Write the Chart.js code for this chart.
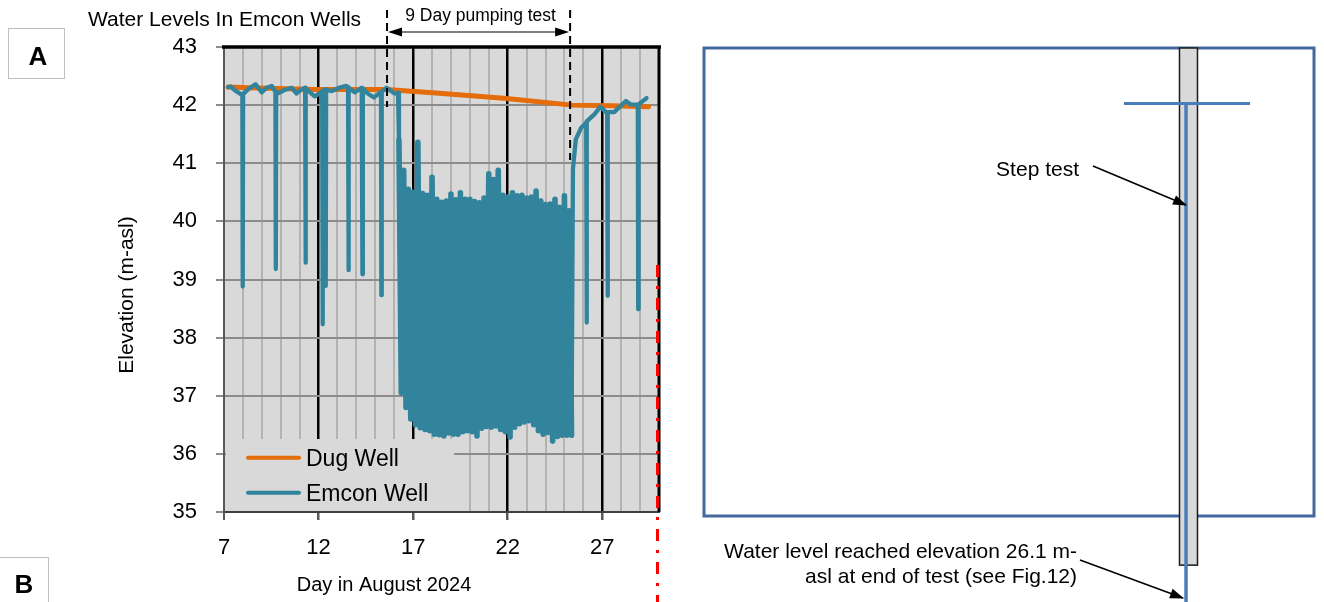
<!DOCTYPE html>
<html>
<head>
<meta charset="utf-8">
<script src="https://cdn.jsdelivr.net/npm/chart.js@4.4.1/dist/chart.umd.min.js"></script>
<style>
  html, body { margin: 0; padding: 0; background: #ffffff; overflow: hidden; }
  #wrap { position: relative; width: 1324px; height: 602px; }
  canvas { position: absolute; top: 0; }
</style>
</head>
<body>
<div id="wrap">
  <canvas id="c1" width="680" height="602" style="left:0px"></canvas>
  <canvas id="c2" width="644" height="602" style="left:680px"></canvas>
</div>
<script>
// ---------------- DATA (panel A) ----------------
const dugDays   = [7.22, 8.3, 11.8, 15.6, 16.9, 18.2, 21.8, 25.4, 27.5, 29.45];
const dugLevels = [42.31, 42.30, 42.27, 42.27, 42.24, 42.21, 42.12, 42.00, 41.99, 41.97];

// Emcon well before pumping (daily oscillation + short dips)
const preDays = [7.22, 7.35, 7.6, 7.93, 7.97, 7.99, 8.01, 8.3, 8.67, 8.99, 9.25, 9.52, 9.72, 9.74, 9.76, 9.83,
  10.2, 10.57, 10.84, 11.05, 11.29, 11.31, 11.33, 11.55, 11.8, 12.05, 12.19, 12.21, 12.23, 12.36, 12.38, 12.40,
  12.68, 13.1, 13.47, 13.56, 13.58, 13.60, 13.91, 14.28, 14.32, 14.34, 14.6, 14.93, 15.23, 15.30, 15.32, 15.34,
  15.59, 15.8, 16.02, 16.2];
const preLevels = [42.31, 42.32, 42.25, 42.18, 42.18, 38.88, 42.19, 42.28, 42.36, 42.22, 42.30, 42.33, 42.23, 39.18, 42.22, 42.20,
  42.26, 42.30, 42.20, 42.26, 42.30, 39.29, 42.29, 42.22, 42.15, 42.20, 42.24, 38.23, 42.25, 42.27, 38.89, 42.27,
  42.24, 42.30, 42.33, 42.31, 39.16, 42.30, 42.22, 42.30, 39.09, 42.29, 42.20, 42.13, 42.21, 42.22, 38.73, 42.23,
  42.30, 42.25, 42.20, 42.21];

// Emcon well during the 9 day pumping test: alternating high / low readings
const pumpHighDays = [16.25, 16.5, 16.75, 17.0, 17.25, 17.5, 17.75, 18.0, 18.25, 18.5, 18.75, 19.0, 19.25, 19.5,
  19.75, 20.0, 20.25, 20.5, 20.75, 21.0, 21.25, 21.5, 21.75, 22.0, 22.25, 22.5, 22.75, 23.0, 23.25, 23.5, 23.75,
  24.0, 24.25, 24.5, 24.75, 25.0, 25.25];
const pumpHigh = [41.40, 40.88, 40.55, 40.50, 41.36, 40.48, 40.45, 40.76, 40.38, 40.33, 40.35, 40.47, 40.37, 40.49,
  40.38, 40.38, 40.34, 40.32, 40.40, 40.82, 40.72, 40.88, 40.45, 40.42, 40.49, 40.44, 40.45, 40.40, 40.42, 40.52, 40.35,
  40.29, 40.30, 40.38, 40.24, 40.44, 40.18];
const pumpLowDays = [16.375, 16.625, 16.875, 17.125, 17.375, 17.625, 17.875, 18.125, 18.375, 18.625, 18.875, 19.125,
  19.375, 19.625, 19.875, 20.125, 20.375, 20.625, 20.875, 21.125, 21.375, 21.625, 21.875, 22.125, 22.375, 22.625,
  22.875, 23.125, 23.375, 23.625, 23.875, 24.125, 24.375, 24.625, 24.875, 25.125, 25.375];
const pumpLow = [37.05, 36.80, 36.60, 36.50, 36.45, 36.42, 36.40, 36.34, 36.33, 36.31, 36.36, 36.34,
  36.34, 36.38, 36.40, 36.38, 36.31, 36.44, 36.47, 36.46, 36.48, 36.42, 36.38, 36.29, 36.46, 36.52,
  36.55, 36.57, 36.50, 36.40, 36.34, 36.37, 36.22, 36.30, 36.32, 36.32, 36.32];

// Emcon well recovery after pumping
const postDays = [25.45, 25.6, 25.88, 26.1, 26.15, 26.17, 26.19, 26.58, 26.9, 27.2, 27.26, 27.28, 27.3, 27.63,
  28.25, 28.51, 28.88, 28.9, 28.92, 29.34];
const postLevels = [40.90, 41.41, 41.61, 41.68, 41.70, 38.26, 41.72, 41.84, 41.97, 41.88, 41.88, 38.72, 41.88, 41.88,
  42.07, 42.01, 42.01, 38.49, 42.01, 42.12];

const xTickLabels = [7, 12, 17, 22, 27];
const pumpStart = 15.62, pumpEnd = 25.30;

// ---------------- DATA (panel B) ----------------
const staticLevel = 42.05;        // m-asl, static water level
const finalLevel = 26.1;          // m-asl, level at end of test
const wellX = 79.02;              // position of well in section
const staticSpan = [68.85, 89.51];
const casingX = [77.95, 80.9];
const casingTop = 43, casingBottom = 34.16;

// ---------------- BUILD ----------------
const FONT = "'Liberation Sans', Arial, Helvetica, sans-serif";
Chart.defaults.font.family = FONT;
Chart.defaults.color = '#000';

const toPts = (xs, ys) => xs.map((x, i) => ({ x: x, y: ys[i] }));
const emconPts = toPts(preDays, preLevels);
pumpHighDays.forEach((d, i) => {
  emconPts.push({ x: d, y: pumpHigh[i] });
  emconPts.push({ x: pumpLowDays[i], y: pumpLow[i] });
});
toPts(postDays, postLevels).forEach(p => emconPts.push(p));
const pumpFirst = pumpHighDays[0], pumpLast = pumpLowDays[pumpLowDays.length - 1];

function arrowHead(ctx, x1, y1, x2, y2, len, half) {
  const a = Math.atan2(y2 - y1, x2 - x1);
  ctx.beginPath();
  ctx.moveTo(x2, y2);
  ctx.lineTo(x2 - len * Math.cos(a) + half * Math.sin(a), y2 - len * Math.sin(a) - half * Math.cos(a));
  ctx.lineTo(x2 - len * Math.cos(a) - half * Math.sin(a), y2 - len * Math.sin(a) + half * Math.cos(a));
  ctx.closePath();
  ctx.fill();
}

const panelA = {
  id: 'panelA',
  beforeDraw(chart) {
    const { ctx, chartArea: a } = chart;
    ctx.save();
    ctx.fillStyle = '#d9d9d9';
    ctx.fillRect(a.left, a.top, a.right - a.left, a.bottom - a.top);
    ctx.restore();
  },
  afterDraw(chart) {
    const { ctx, chartArea: a } = chart;
    const xs = chart.scales.x;
    ctx.save();
    // legend box inside plot
    ctx.fillStyle = '#d9d9d9';
    ctx.fillRect(226, 439, 228, 72);
    ctx.font = '23px ' + FONT;
    ctx.textBaseline = 'alphabetic';
    ctx.textAlign = 'left';
    chart.data.datasets.forEach((ds, i) => {
      const y = 457.7 + i * 35;
      ctx.strokeStyle = ds.borderColor;
      ctx.lineWidth = 4;
      ctx.lineCap = 'round';
      ctx.beginPath(); ctx.moveTo(248, y); ctx.lineTo(299, y); ctx.stroke();
      ctx.fillStyle = '#000';
      ctx.fillText(ds.label, 306, y + 8.5);
    });
    ctx.lineCap = 'butt';
    // top and right borders
    ctx.strokeStyle = '#000';
    ctx.lineWidth = 3.5;
    ctx.beginPath(); ctx.moveTo(222, a.top); ctx.lineTo(a.right + 2, a.top); ctx.stroke();
    ctx.lineWidth = 3;
    ctx.beginPath(); ctx.moveTo(a.right, a.top); ctx.lineTo(a.right, a.bottom); ctx.stroke();
    // red dash-dot line
    ctx.strokeStyle = '#ff0000';
    ctx.lineWidth = 3;
    ctx.setLineDash([12, 9, 3, 9]);
    ctx.beginPath(); ctx.moveTo(657.5, 265); ctx.lineTo(657.5, 602); ctx.stroke();
    // pumping test markers
    const x1 = xs.getPixelForValue(pumpStart), x2 = xs.getPixelForValue(pumpEnd);
    ctx.strokeStyle = '#000';
    ctx.lineWidth = 2;
    ctx.setLineDash([8, 5]);
    ctx.beginPath(); ctx.moveTo(x1, 10); ctx.lineTo(x1, 107); ctx.stroke();
    ctx.beginPath(); ctx.moveTo(x2, 10); ctx.lineTo(x2, 160); ctx.stroke();
    ctx.setLineDash([]);
    ctx.lineWidth = 1.2;
    ctx.beginPath(); ctx.moveTo(x1 + 4, 32); ctx.lineTo(x2 - 4, 32); ctx.stroke();
    ctx.fillStyle = '#000';
    arrowHead(ctx, x2, 32, x1 + 1, 32, 14, 4.5);
    arrowHead(ctx, x1, 32, x2 - 1, 32, 14, 4.5);
    ctx.font = '17.5px ' + FONT;
    ctx.textAlign = 'center';
    ctx.fillText('9 Day pumping test', (x1 + x2) / 2 + 2, 21);
    // chart title
    ctx.font = '21px ' + FONT;
    ctx.textAlign = 'left';
    ctx.fillText('Water Levels In Emcon Wells', 88, 26);
    // axis titles
    ctx.font = '20px ' + FONT;
    ctx.textAlign = 'center';
    ctx.fillText('Day in August 2024', 384, 591);
    ctx.save();
    ctx.translate(133, 295);
    ctx.rotate(-Math.PI / 2);
    ctx.font = '21px ' + FONT;
    ctx.fillText('Elevation (m-asl)', 0, 0);
    ctx.restore();
    // panel letters
    ctx.fillStyle = '#fff';
    ctx.strokeStyle = '#bfbfbf';
    ctx.lineWidth = 1;
    ctx.fillRect(8.5, 28.5, 56, 50); ctx.strokeRect(8.5, 28.5, 56, 50);
    ctx.fillRect(-1, 557.5, 49.5, 50); ctx.strokeRect(-1, 557.5, 49.5, 50);
    ctx.fillStyle = '#000';
    ctx.font = 'bold 26px ' + FONT;
    ctx.textAlign = 'center';
    ctx.fillText('A', 38, 65);
    ctx.fillText('B', 24, 593);
    ctx.restore();
  }
};

const isMajor = v => xTickLabels.includes(v);

new Chart(document.getElementById('c1'), {
  type: 'line',
  data: {
    datasets: [
      { label: 'Dug Well', data: toPts(dugDays, dugLevels), borderColor: '#e46c0a', borderWidth: 5,
        pointRadius: 0, order: 2, borderJoinStyle: 'round', borderCapStyle: 'round' },
      { label: 'Emcon Well', data: emconPts, borderColor: '#31849b', borderWidth: 4.3,
        pointRadius: 0, order: 1, borderJoinStyle: 'round', borderCapStyle: 'round',
        segment: {
          borderWidth: c => (c.p0.parsed.x >= pumpFirst && c.p1.parsed.x <= pumpLast) ? 5.6 : 4.3
        } }
    ]
  },
  options: {
    responsive: false, animation: false, devicePixelRatio: 1,
    layout: { padding: { left: 0, top: 47, right: 21, bottom: 0 } },
    plugins: { legend: { display: false }, tooltip: { enabled: false }, title: { display: false } },
    elements: { line: { tension: 0 } },
    scales: {
      x: {
        type: 'linear', min: 7, max: 30,
        afterFit: s => { s.height = 90; },
        ticks: { stepSize: 1, maxTicksLimit: 100, autoSkip: false, maxRotation: 0, minRotation: 0, padding: 15,
          color: '#000', font: { size: 22 },
          callback: v => isMajor(v) ? String(v) : '' },
        grid: {
          tickLength: 8,
          color: c => (c.tick && isMajor(c.tick.value) && c.tick.value !== 7) ? '#000000' : (c.tick && c.tick.value === 7 ? '#595959' : '#b3b3b3'),
          lineWidth: c => (c.tick && isMajor(c.tick.value) && c.tick.value !== 7) ? 2.5 : 2,
          tickColor: c => (c.tick && isMajor(c.tick.value)) ? '#595959' : 'rgba(0,0,0,0)'
        },
        border: { display: true, color: '#404040', width: 2 }
      },
      y: {
        min: 35, max: 43,
        afterFit: s => { s.width = 224; },
        ticks: { stepSize: 1, padding: 19, color: '#000', font: { size: 22 } },
        grid: { color: '#8c8c8c', lineWidth: 2, tickLength: 8, tickColor: '#8c8c8c' },
        border: { display: true, color: '#595959', width: 2 }
      }
    }
  },
  plugins: [panelA]
});

// ---------------- panel B ----------------
const panelB = {
  id: 'panelB',
  beforeDatasetsDraw(chart) {
    const { ctx, chartArea: a } = chart;
    const xs = chart.scales.x, ys = chart.scales.y;
    ctx.save();
    ctx.strokeStyle = '#44689e';
    ctx.lineWidth = 3;
    ctx.strokeRect(a.left, a.top, a.right - a.left, a.bottom - a.top);
    const cx1 = xs.getPixelForValue(casingX[0]), cx2 = xs.getPixelForValue(casingX[1]);
    const cy1 = ys.getPixelForValue(casingTop), cy2 = ys.getPixelForValue(casingBottom);
    ctx.fillStyle = '#d9d9d9';
    ctx.fillRect(cx1, cy1, cx2 - cx1, cy2 - cy1);
    ctx.strokeStyle = '#1a1a1a';
    ctx.lineWidth = 1.5;
    ctx.strokeRect(cx1, cy1, cx2 - cx1, cy2 - cy1);
    ctx.restore();
  },
  afterDraw(chart) {
    const { ctx } = chart;
    const xs = chart.scales.x;
    const wx = xs.getPixelForValue(wellX);
    ctx.save();
    ctx.fillStyle = '#000';
    ctx.strokeStyle = '#000';
    ctx.font = '21px ' + FONT;
    ctx.textAlign = 'right';
    ctx.textBaseline = 'alphabetic';
    ctx.fillText('Step test', 399, 176);
    ctx.fillText('Water level reached elevation 26.1 m-', 397, 558);
    ctx.fillText('asl at end of test (see Fig.12)', 397, 583);
    ctx.lineWidth = 1.6;
    ctx.beginPath(); ctx.moveTo(413, 166); ctx.lineTo(wx, 205); ctx.stroke();
    arrowHead(ctx, 413, 166, wx + 1, 205.4, 14, 5);
    ctx.beginPath(); ctx.moveTo(400, 560); ctx.lineTo(wx - 3, 598); ctx.stroke();
    arrowHead(ctx, 400, 560, wx - 2, 598.4, 14, 5);
    ctx.restore();
  }
};

new Chart(document.getElementById('c2'), {
  type: 'line',
  data: {
    datasets: [
      { label: 'Static water level', data: [{ x: staticSpan[0], y: staticLevel }, { x: staticSpan[1], y: staticLevel }],
        borderColor: '#4a7ebb', borderWidth: 3, pointRadius: 0, clip: false },
      { label: 'Drawdown', data: [{ x: wellX, y: staticLevel }, { x: wellX, y: finalLevel }],
        borderColor: '#4a7ebb', borderWidth: 3.5, pointRadius: 0, clip: false }
    ]
  },
  options: {
    responsive: false, animation: false, devicePixelRatio: 1,
    layout: { padding: { left: 24, right: 10, top: 48, bottom: 86 } },
    plugins: { legend: { display: false }, tooltip: { enabled: false } },
    scales: {
      x: { type: 'linear', min: 0, max: 100, display: false },
      y: { min: 35, max: 43, display: false }
    }
  },
  plugins: [panelB]
});
</script>
</body>
</html>
